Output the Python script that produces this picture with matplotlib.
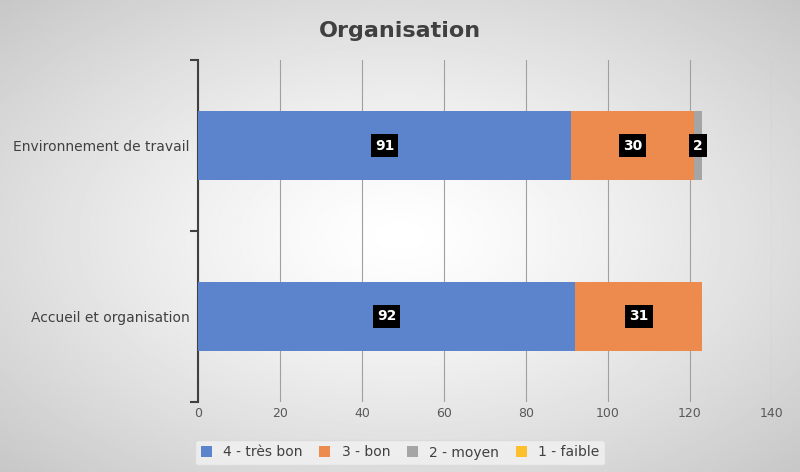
import numpy as np
import matplotlib.pyplot as plt

categories = ["Accueil et organisation", "Environnement de travail"]
series_names = ["4 - très bon", "3 - bon", "2 - moyen", "1 - faible"]
values = [[92, 91], [31, 30], [0, 2], [0, 0]]
colors = ["#5b84cd", "#ed8b4e", "#a5a5a5", "#fcc02c"]

fig = plt.figure(figsize=(8, 4.72), dpi=100)

# radial gradient background
bg = fig.add_axes([0, 0, 1, 1], zorder=-10)
yy, xx = np.mgrid[-1:1:300j, -1:1:500j]
r = np.sqrt(xx**2 + yy**2) / np.sqrt(2)
bg.imshow(1 - 0.22 * r**1.3, cmap="gray", vmin=0, vmax=1, aspect="auto",
          extent=[0, 1, 0, 1])
bg.axis("off")

ax = fig.add_axes([198 / 800, 70 / 472, 574 / 800, 342 / 472])
ax.patch.set_alpha(0)
left = np.zeros(2)
for name, vals, c in zip(series_names, values, colors):
    vals = np.array(vals)
    ax.barh([0, 1], vals, left=left, height=0.4, color=c, label=name, zorder=3)
    for i, v in enumerate(vals):
        if v > 0:
            ax.text(left[i] + v / 2, i, str(v), ha="center", va="center",
                    color="white", fontsize=10, fontweight="bold", zorder=4,
                    bbox=dict(facecolor="black", edgecolor="none", pad=3))
    left = left + vals

ax.set_xlim(0, 140)
ax.set_ylim(-0.5, 1.5)
ax.set_xticks(range(0, 141, 20))
ax.set_yticks([0, 1])
ax.set_yticklabels(categories, fontsize=10, color="#404040")
ax.set_yticks([-0.5, 0.5, 1.5], minor=True)
ax.tick_params(axis="y", which="major", length=0, pad=6)
ax.tick_params(axis="y", which="minor", length=6, width=1.5, color="#404040")
ax.tick_params(axis="x", length=0, labelsize=9, colors="#595959")
ax.grid(axis="x", color="#a0a0a0", linewidth=0.8, zorder=0)
for s in ["top", "right", "bottom"]:
    ax.spines[s].set_visible(False)
ax.spines["left"].set_color("#404040")
ax.spines["left"].set_linewidth(1.5)

fig.suptitle("Organisation", y=0.955, fontsize=16, fontweight="bold", color="#404040")
fig.legend(loc="lower center", ncol=4, bbox_to_anchor=(0.5, 0.0), fontsize=10,
           frameon=True, facecolor="#f2f2f2", edgecolor="#d9d9d9",
           handlelength=0.8, handleheight=0.8, columnspacing=1.2, labelcolor="#404040")

fig.savefig("out.png", dpi=100)
